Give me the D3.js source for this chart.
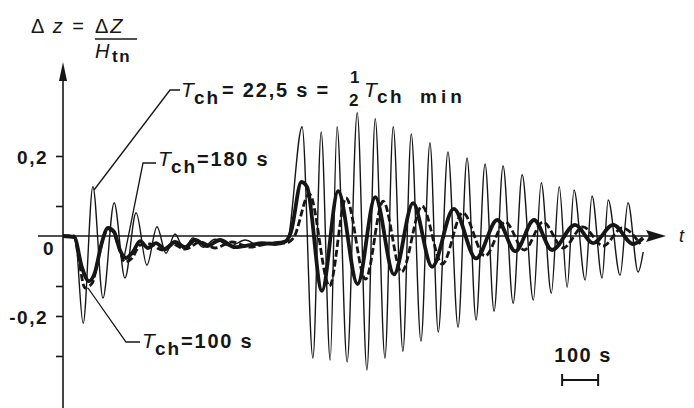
<!DOCTYPE html>
<html><head><meta charset="utf-8">
<script src="https://cdn.jsdelivr.net/npm/d3@7"></script>
<style>
html,body{margin:0;padding:0;background:#fff;}
svg{display:block;}
text{font-family:"Liberation Sans",Arial,sans-serif;fill:#161616;}
</style></head><body>
<svg id="c" width="694" height="408"></svg>
<script>
// time (s), relative level change Δz
const thin = [[0,0],[33,0],[56,-0.218],[83,0.123],[111,-0.155],[142,0.083],[172,-0.105],[203,0.058],[233,-0.073],[261,0.023],[286,-0.043],[311,0.005],[336,-0.033],[361,-0.005],[389,-0.028],[422,-0.008],[464,-0.025],[506,-0.01],[547,-0.025],[589,-0.015],[622,-0.012],
[664,0.273],[694,-0.305],[717,0.26],[742,-0.31],[761,0.273],[789,-0.315],[817,0.308],[844,-0.335],[867,0.293],[894,-0.305],[917,0.273],[944,-0.288],[967,0.255],[994,-0.263],[1019,0.233],[1042,-0.24],[1069,0.21],[1097,-0.228],[1122,0.195],[1147,-0.21],[1172,0.18],[1197,-0.188],[1222,0.175],[1250,-0.168],[1275,0.153],[1306,-0.16],[1328,0.133],[1356,-0.143],[1378,0.123],[1400,-0.128],[1419,0.115],[1450,-0.11],[1469,0.1],[1497,-0.105],[1514,0.09],[1547,-0.098],[1569,0.083],[1597,-0.09],[1611,-0.04]];

const thick = [[0,0],[31,-0.003],[53,-0.08],[72,-0.113],[89,-0.09],[106,-0.023],[125,0.02],[142,0.01],[158,-0.035],[175,-0.055],[194,-0.04],[214,-0.013],[236,-0.03],[258,-0.018],[283,-0.033],[311,-0.015],[339,-0.028],[367,-0.01],[400,-0.025],[436,-0.01],[478,-0.028],[519,-0.023],[553,-0.018],[589,-0.02],[619,-0.013],
[633,0.01],[662,0.135],[678,0.122],[719,-0.137],[764,0.112],[818,-0.12],[867,0.097],[919,-0.096],[972,0.082],[1025,-0.077],[1085,0.068],[1147,-0.056],[1206,0.04],[1256,-0.038],[1308,0.04],[1358,-0.035],[1422,0.028],[1472,-0.018],[1528,0.028],[1583,-0.02],[1611,-0.005]];

const dashed = [[0,0],[31,0],[42,-0.048],[61,-0.13],[81,-0.118],[100,-0.048],[119,0.01],[136,0.015],[153,-0.023],[172,-0.065],[192,-0.055],[214,-0.023],[242,-0.02],[275,-0.035],[303,-0.02],[339,-0.033],[381,-0.015],[422,-0.03],[469,-0.015],[519,-0.028],[569,-0.018],[617,-0.018],
[640,-0.005],[684,0.105],[740,-0.125],[786,0.095],[840,-0.108],[889,0.087],[940,-0.09],[997,0.075],[1053,-0.07],[1110,0.058],[1172,-0.05],[1228,0.035],[1281,-0.035],[1333,0.035],[1389,-0.03],[1444,0.023],[1500,-0.025],[1553,0.02],[1603,-0.02]];

const yTicks = [0.2, 0.075, -0.125, -0.2, -0.3];
const yLabelValues = [0.2, 0, -0.2];
const yLabelTexts = ["0,2", "0", "-0,2"];
const scaleBar = [1386, 1486]; // 100 s
const scaleBarText = "100 s";

const ink = "#161616";
const svg = d3.select("#c");
svg.append("rect").attr("width",694).attr("height",408).attr("fill","#fff");

const x = d3.scaleLinear().domain([0,1680]).range([63,668]);
const y = d3.scaleLinear().domain([-0.43,0.435]).range([408,62]);

// axes
const x0 = x(0), y0 = y(0);
svg.append("line").attr("x1",x0).attr("x2",x0).attr("y1",408).attr("y2",y.range()[1]+6)
  .attr("stroke",ink).attr("stroke-width",1.6);
svg.append("path").attr("d",`M${x0},${y.range()[1]} L${x0-4},${y.range()[1]+19} L${x0+4},${y.range()[1]+19} Z`).attr("fill",ink);
svg.append("line").attr("x1",38).attr("x2",650).attr("y1",y0).attr("y2",y0).attr("stroke",ink).attr("stroke-width",1.4);
svg.append("path").attr("d",`M666,${y0} L646,${y0-6} L649,${y0} L646,${y0+6} Z`).attr("fill",ink);
svg.append("text").attr("x",679).attr("y",y0+6).attr("font-size",18).attr("font-style","italic").text("t");

const yAxis = d3.axisLeft(y).tickValues(yTicks).tickSize(7).tickFormat("");
const ga = svg.append("g").attr("transform",`translate(${x0},0)`).call(yAxis);
ga.select(".domain").remove();
ga.selectAll("line").attr("stroke",ink).attr("stroke-width",1.6);

const yl = svg.append("g");
yLabelValues.forEach((v,i)=>{
  const t = yl.append("text").attr("font-size",19).attr("font-weight","bold").attr("letter-spacing",1.5).text(yLabelTexts[i]);
  if (v===0) t.attr("x",49).attr("y",y(v)+19).attr("text-anchor","middle");
  else t.attr("x",48).attr("y",y(v)+8).attr("text-anchor","end");
});

// curves
const line = d3.line().x(d=>x(d[0])).y(d=>y(d[1])).curve(d3.curveMonotoneX);
svg.append("path").datum(thin).attr("d",line).attr("fill","none").attr("stroke",ink).attr("stroke-width",1.4);
svg.append("path").datum(dashed).attr("d",line).attr("fill","none").attr("stroke",ink).attr("stroke-width",2.8).attr("stroke-dasharray","7,3");
svg.append("path").datum(thick).attr("d",line).attr("fill","none").attr("stroke",ink).attr("stroke-width",3.8).attr("stroke-linejoin","round");

// title
const title = svg.append("g");
title.append("text").attr("x",31).attr("y",33).attr("font-size",20).attr("letter-spacing",2)
  .html('Δ <tspan font-style="italic">z</tspan> =');
title.append("text").attr("x",95).attr("y",33).attr("font-size",20).attr("letter-spacing",2)
  .html('Δ<tspan font-style="italic">Z</tspan>');
title.append("line").attr("x1",95).attr("x2",137).attr("y1",39).attr("y2",39).attr("stroke",ink).attr("stroke-width",1.6);
title.append("text").attr("x",95).attr("y",58).attr("font-size",20)
  .html('<tspan font-style="italic">H</tspan><tspan x="112" dy="4" font-size="17" font-weight="bold" letter-spacing="1.5">tn</tspan>');

// labels
function tch(g, xT, yb, rest, restX) {
  g.append("text").attr("x",xT).attr("y",yb).attr("font-size",21)
    .html(`<tspan font-style="italic">T</tspan><tspan x="${xT+13}" dy="7" font-size="19" font-weight="bold" letter-spacing="2">ch</tspan><tspan x="${restX}" dy="-7" font-size="20" font-weight="bold" letter-spacing="1.8">${rest}</tspan>`);
}
const lab = svg.append("g");
tch(lab, 181, 97, "= 22,5 s =", 222);
lab.append("text").attr("x",350).attr("y",83).attr("font-size",17).attr("font-weight","bold").text("1");
lab.append("text").attr("x",349).attr("y",106).attr("font-size",17).attr("font-weight","bold").text("2");
lab.append("text").attr("x",364).attr("y",97).attr("font-size",21)
  .html('<tspan font-style="italic">T</tspan><tspan x="377" dy="6" font-size="19" font-weight="bold" letter-spacing="2.5">ch</tspan><tspan x="420" font-size="19" font-weight="bold" letter-spacing="4">min</tspan>');

tch(lab, 158, 166, "=180 s", 197);
tch(lab, 142, 348, "=100 s", 181);

// leaders
const lead = svg.append("g").attr("fill","none").attr("stroke",ink).attr("stroke-width",1.3);
lead.append("path").attr("d","M94,190 L170,90 L180,90");
lead.append("path").attr("d","M124,258 L143,163 L156,163");
lead.append("path").attr("d","M88,288 L126,342 L140,342");

// scale bar
const sb = svg.append("g");
sb.append("text").attr("x",(x(scaleBar[0])+x(scaleBar[1]))/2+3).attr("y",362).attr("text-anchor","middle")
  .attr("font-size",20).attr("font-weight","bold").attr("letter-spacing",1.5).text(scaleBarText);
sb.append("line").attr("x1",x(scaleBar[0])).attr("x2",x(scaleBar[1])).attr("y1",380).attr("y2",380).attr("stroke",ink).attr("stroke-width",2);
[0,1].forEach(i=>sb.append("line").attr("x1",x(scaleBar[i])).attr("x2",x(scaleBar[i])).attr("y1",374).attr("y2",386).attr("stroke",ink).attr("stroke-width",2));
</script></body></html>
